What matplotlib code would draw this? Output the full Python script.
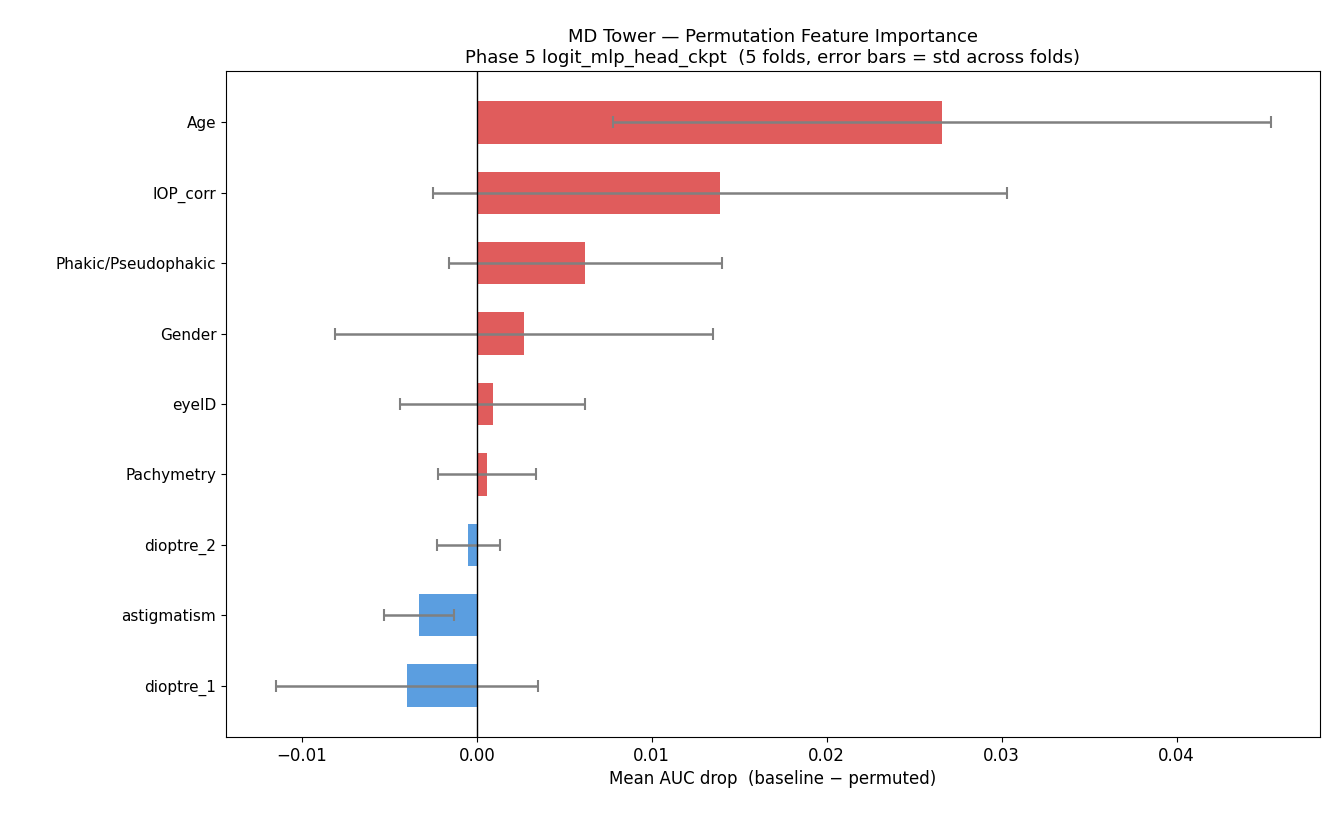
import numpy as np
from matplotlib import pyplot as plt

features = ['dioptre_1', 'astigmatism', 'dioptre_2', 'Pachymetry', 'eyeID',
            'Gender', 'Phakic/Pseudophakic', 'IOP_corr', 'Age']
mean_drop = [-0.0040, -0.0033, -0.0005, 0.0006, 0.0009, 0.0027, 0.0062, 0.0139, 0.0266]
std_drop = [0.0075, 0.0020, 0.0018, 0.0028, 0.0053, 0.0108, 0.0078, 0.0164, 0.0188]

colors = ['#e05c5c' if v > 0 else '#5b9ee0' for v in mean_drop]

fig, ax = plt.subplots(figsize=(13.34, 8.15), dpi=100)
fig.subplots_adjust(left=0.1694, right=0.9895, top=0.9129, bottom=0.0957)
y = np.arange(len(features))
ax.barh(y, mean_drop, height=0.6, color=colors, xerr=std_drop,
        error_kw=dict(ecolor='grey', capsize=4, elinewidth=1.8, capthick=1.5))
ax.axvline(0, color='black', linewidth=1)
ax.set_yticks(y)
ax.set_yticklabels(features, fontsize=11)
ax.tick_params(axis='x', labelsize=12)
ax.set_xlim(-0.01434, 0.0482)
ax.set_xlabel('Mean AUC drop  (baseline \u2212 permuted)', fontsize=12)
ax.set_title('MD Tower \u2014 Permutation Feature Importance\n'
             'Phase 5 logit_mlp_head_ckpt  (5 folds, error bars = std across folds)', fontsize=13)
fig.savefig('out.png')
